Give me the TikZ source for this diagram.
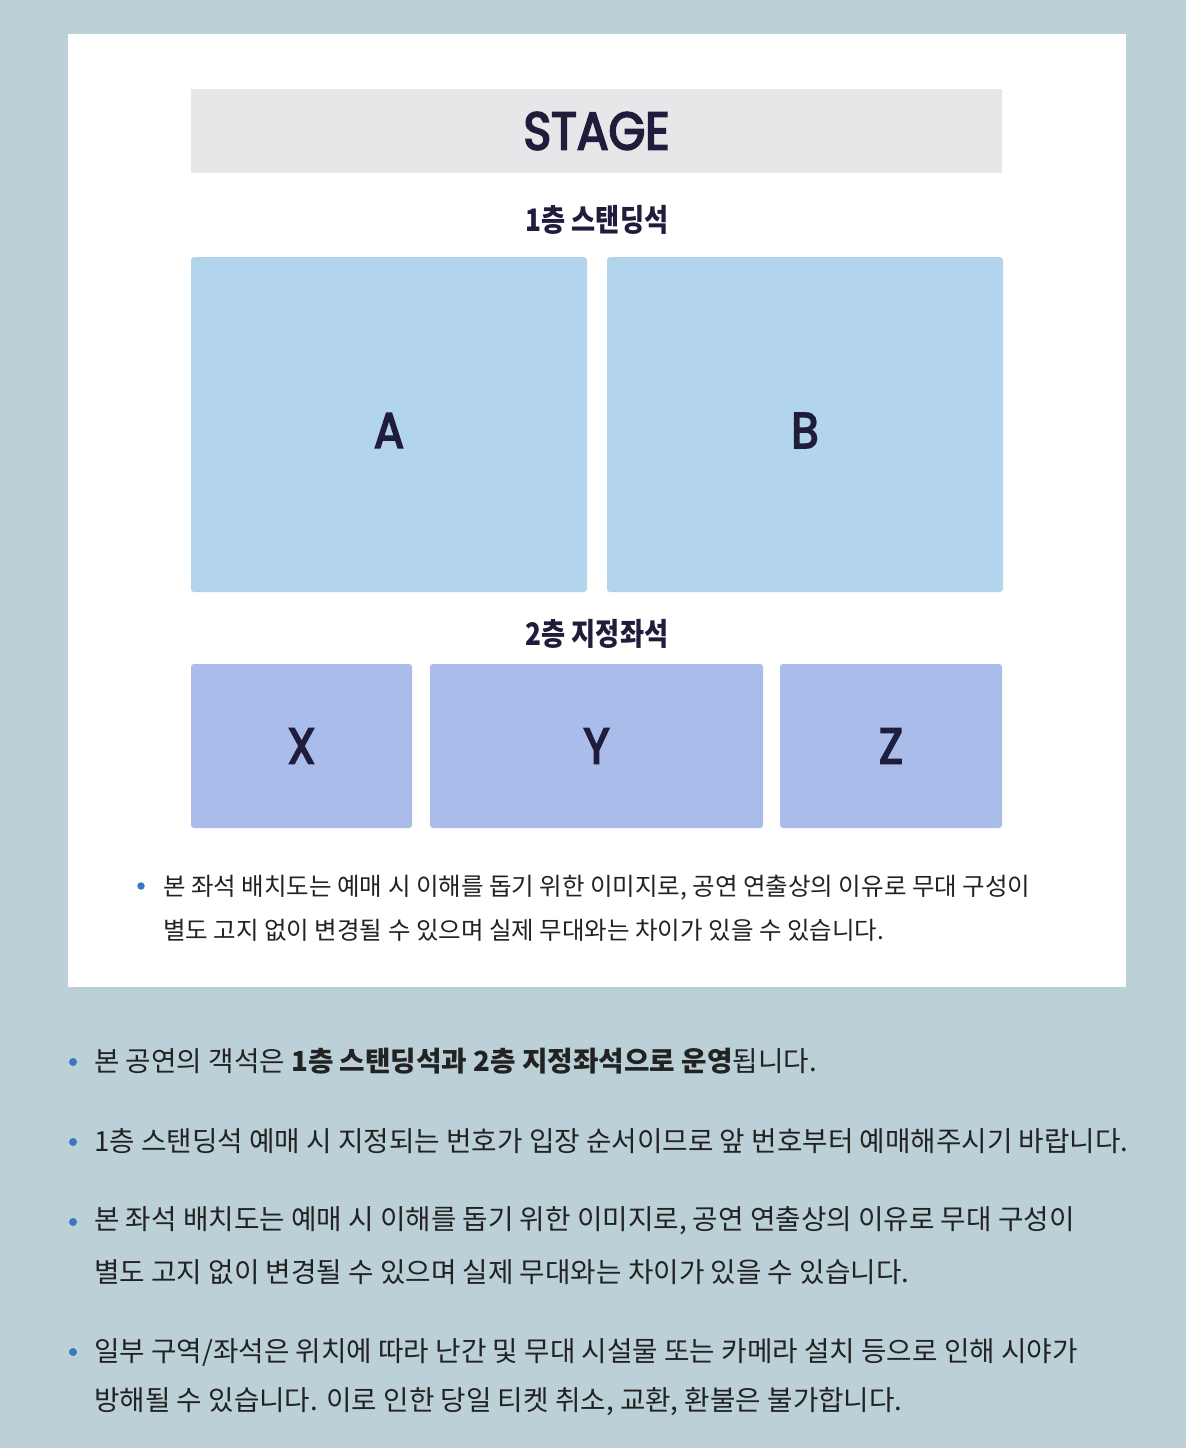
\documentclass[tikz,border=0pt]{standalone}
\usepackage{fontspec}
\usepackage{xcolor}
\setmainfont{Noto Sans CJK KR}
\newfontfamily\krfont{Noto Sans CJK KR}[FakeStretch=1.0]
\newfontfamily\krhead{Noto Sans CJK KR}[FakeStretch=0.845]
\newfontfamily\latfont{Poppins}[FakeStretch=0.89, FakeBold=3.5]
\usetikzlibrary{positioning}

\definecolor{bgcol}{HTML}{BCD0D7}
\definecolor{stagecol}{HTML}{E6E7E9}
\definecolor{standcol}{HTML}{B2D4EC}
\definecolor{seatcol}{HTML}{A9BCEA}
\definecolor{navy}{HTML}{1F1C3C}
\definecolor{bodycol}{HTML}{222222}
\definecolor{dotcol}{HTML}{3A78C0}

\tikzset{
  standbox/.style={fill=standcol, rounded corners=3pt, inner sep=0pt},
  seatbox/.style={fill=seatcol, rounded corners=3pt, inner sep=0pt, text=navy, font=\latfont\fontsize{50}{50}\selectfont},
  seatlbl/.style={text=navy, font=\latfont\fontsize{50}{50}\selectfont, inner sep=0pt},
  floorlbl/.style={text=navy, font=\krhead\bfseries\fontsize{31}{31}\selectfont, inner sep=0pt},
  paneltxt/.style={anchor=west, inner sep=0pt, text=bodycol, font=\krfont\fontsize{24.5}{24.5}\selectfont},
  notetxt/.style={anchor=west, inner sep=0pt, text=bodycol, font=\krfont\fontsize{27.7}{27.7}\selectfont},
  bulletdot/.style={circle, fill=dotcol, inner sep=0pt, minimum size=8pt},
}

\begin{document}
\begin{tikzpicture}[x=1pt, y=-1pt]
  \fill[bgcol] (0,0) rectangle (1186,1448);
  \useasboundingbox (0,0) rectangle (1186,1448);

  % white panel with the seat map
  \node[fill=white, inner sep=0pt, minimum width=1058pt, minimum height=953pt] (panel) at (597,510.5) {};
  \node[fill=stagecol, inner sep=0pt, minimum width=811pt, minimum height=84pt, text=navy, font=\latfont\fontsize{53}{53}\selectfont] (stage) at (596.5,131) {STAGE};

  \node[floorlbl] (floor1) at (597,220) {1층 스탠딩석};
  \node[standbox, minimum width=396pt, minimum height=335pt] (A) at (389,424.5) {};
  \node[standbox, minimum width=396pt, minimum height=335pt] (B) at (805,424.5) {};
  \node[seatlbl] (Alabel) at ([yshift=-6pt]A.center) {A};
  \node[seatlbl] (Blabel) at ([yshift=-6pt]B.center) {B};

  \node[floorlbl] (floor2) at (597,634) {2층 지정좌석};
  \node[seatbox, minimum width=221pt, minimum height=164pt] (X) at (301.5,746) {X};
  \node[seatbox, minimum width=333pt, minimum height=164pt] (Y) at (596.5,746) {Y};
  \node[seatbox, minimum width=222pt, minimum height=164pt] (Z) at (891,746) {Z};

  \node[bulletdot, minimum size=7.5pt] (pdot) at (141,886) {};
  \node[paneltxt] (pline1) at (163,888) {본 좌석 배치도는 예매 시 이해를 돕기 위한 이미지로, 공연 연출상의 이유로 무대 구성이};
  \node[paneltxt] (pline2) at (163,930) {별도 고지 없이 변경될 수 있으며 실제 무대와는 차이가 있을 수 있습니다.};

  % notes below the panel
  \node[bulletdot] (dot1) at (73,1062) {};
  \node[notetxt] (note1) at (94,1061) {본 공연의 객석은 {\bfseries 1층 스탠딩석과 2층 지정좌석으로 운영}됩니다.};
  \node[bulletdot] (dot2) at (73,1142) {};
  \node[notetxt] (note2) at (94,1141) {1층 스탠딩석 예매 시 지정되는 번호가 입장 순서이므로 앞 번호부터 예매해주시기 바랍니다.};
  \node[bulletdot] (dot3) at (73,1222) {};
  \node[notetxt] (note3a) at (94,1221) {본 좌석 배치도는 예매 시 이해를 돕기 위한 이미지로, 공연 연출상의 이유로 무대 구성이};
  \node[notetxt] (note3b) at (94,1272) {별도 고지 없이 변경될 수 있으며 실제 무대와는 차이가 있을 수 있습니다.};
  \node[bulletdot] (dot4) at (73,1352) {};
  \node[notetxt] (note4a) at (94,1352) {일부 구역/좌석은 위치에 따라 난간 및 무대 시설물 또는 카메라 설치 등으로 인해 시야가};
  \node[notetxt] (note4b) at (94,1402) {방해될 수 있습니다. 이로 인한 당일 티켓 취소, 교환, 환불은 불가합니다.};
\end{tikzpicture}
\end{document}
